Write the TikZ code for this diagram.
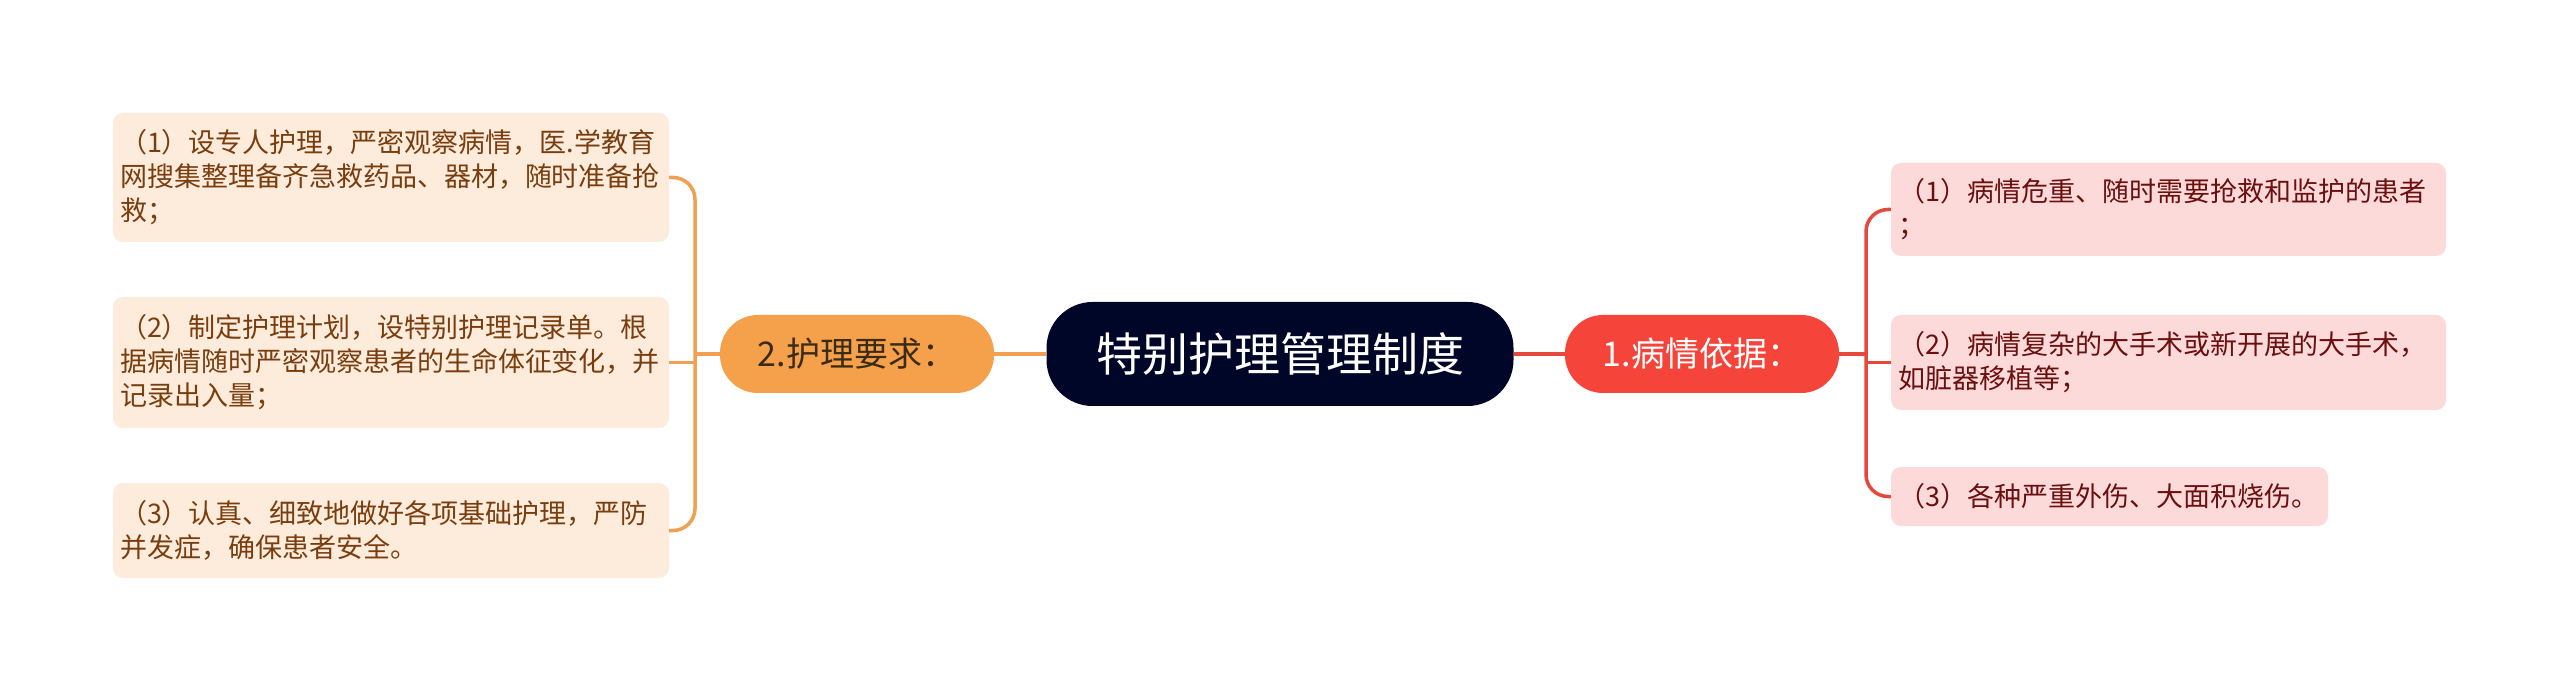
\documentclass[tikz,border=0pt]{standalone}
\usepackage{fontspec}
\setmainfont{Noto Sans CJK SC}
\definecolor{cnavy}{RGB}{0,6,40}
\definecolor{corange}{RGB}{245,161,75}
\definecolor{corangeline}{RGB}{240,160,80}
\definecolor{corangetext}{RGB}{60,43,20}
\definecolor{cred}{RGB}{245,69,59}
\definecolor{credline}{RGB}{230,72,62}
\definecolor{lbox}{RGB}{253,235,220}
\definecolor{ltext}{RGB}{122,62,14}
\definecolor{rbox}{RGB}{253,218,218}
\definecolor{rtext}{RGB}{107,15,15}
\tikzset{
  rootbox/.style={fill=cnavy, text=white, rounded corners=46pt, minimum width=467pt, minimum height=104pt, inner sep=0pt, font=\fontsize{46}{52}\selectfont},
  topicbox/.style={rounded corners=38pt, minimum width=274pt, minimum height=78pt, inner sep=0pt, font=\fontsize{34}{40}\selectfont},
  leafbox/.style={rounded corners=10pt, inner xsep=7pt, inner ysep=0pt, align=left, font=\fontsize{27}{34}\selectfont},
  lleaf/.style={leafbox, fill=lbox, text=ltext, text width=542pt},
  rleaf/.style={leafbox, fill=rbox, text=rtext},
  lline/.style={draw=corangeline, line width=3.5pt},
  rline/.style={draw=credline, line width=3.5pt},
}
\begin{document}
\begin{tikzpicture}[x=1pt,y=-1pt]
\useasboundingbox[fill=white] (0,0) rectangle (2560,692);
\node[rootbox] (root) at (1280,354) {特别护理管理制度};
\node[topicbox, fill=corange, text=corangetext] (n2) at (857,354) {2.护理要求：};
\node[topicbox, fill=cred, text=white] (n1) at (1702,354) {1.病情依据：};

\node[lleaf, minimum height=129pt] (l1) at (391,177.5) {（1）设专人护理，严密观察病情，医.学教育\\网搜集整理备齐急救药品、器材，随时准备抢\\救；};
\node[lleaf, minimum height=131pt] (l2) at (391,362.5) {（2）制定护理计划，设特别护理记录单。根\\据病情随时严密观察患者的生命体征变化，并\\记录出入量；};
\node[lleaf, minimum height=95pt] (l3) at (391,530.5) {（3）认真、细致地做好各项基础护理，严防\\并发症，确保患者安全。};

\node[rleaf, text width=541pt, minimum height=93pt] (r1) at (2168.5,209.5) {（1）病情危重、随时需要抢救和监护的患者\\；};
\node[rleaf, text width=541pt, minimum height=95pt] (r2) at (2168.5,362.5) {（2）病情复杂的大手术或新开展的大手术，\\如脏器移植等；};
\node[rleaf, text width=423pt, minimum height=59pt] (r3) at (2109.5,496.5) {（3）各种严重外伤、大面积烧伤。};

\coordinate (lj) at (695,354);
\coordinate (rj) at (1866,354);

\draw[lline] (root.west) -- (n2.east);
\draw[lline] (n2.west) -- (lj);
\draw[lline, rounded corners=22pt] (l1.east) -| (lj) |- (l3.east);
\draw[lline] (l2.east) -- (l2.east -| lj);

\draw[rline] (root.east) -- (n1.west);
\draw[rline] (n1.east) -- (rj);
\draw[rline, rounded corners=22pt] (r1.west) -| (rj) |- (r3.west);
\draw[rline] (r2.west) -- (r2.west -| rj);
\end{tikzpicture}
\end{document}
